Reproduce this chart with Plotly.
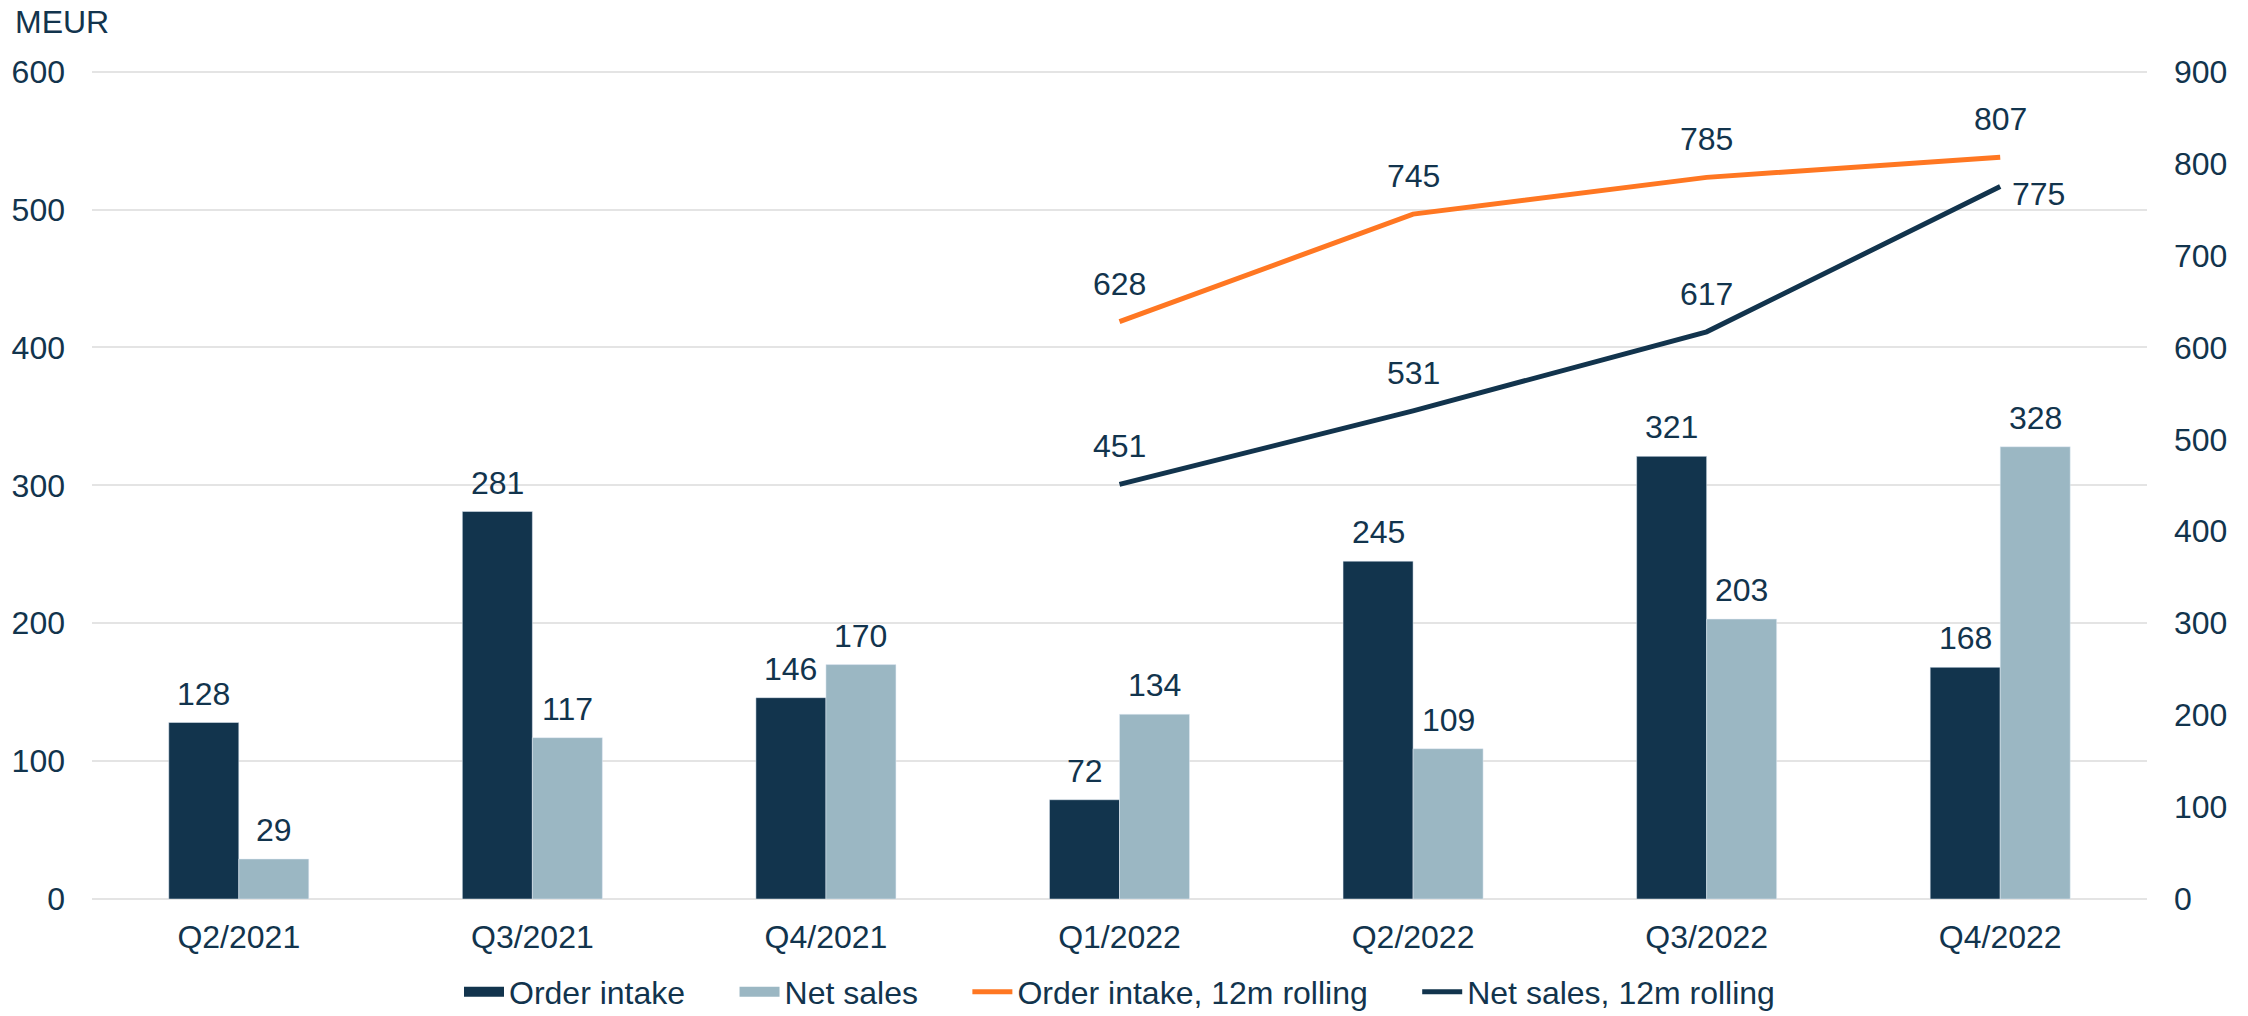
import plotly.graph_objects as go

categories = ["Q2/2021", "Q3/2021", "Q4/2021", "Q1/2022", "Q2/2022", "Q3/2022", "Q4/2022"]
order_intake = [128, 281, 146, 72, 245, 321, 168]
net_sales = [29, 117, 170, 134, 109, 203, 328]
order_intake_12m = [None, None, None, 628, 745, 785, 807]
net_sales_12m = [None, None, None, 451, 531, 617, 775]
left_ticks = [0, 100, 200, 300, 400, 500, 600]
right_ticks = [0, 100, 200, 300, 400, 500, 600, 700, 800, 900]

DARK = "#12344D"
LIGHT = "#9BB7C3"
ORANGE = "#FF7722"
TXT = "#12344D"
GRID = "#E4E4E4"
FONT = "Arial, Liberation Sans, sans-serif"
FS = 32
NB = "\u00a0" * 5

fig = go.Figure()

fig.add_trace(go.Bar(x=categories, y=order_intake, name="Order intake",
                     marker_color=DARK, showlegend=False))
fig.add_trace(go.Bar(x=categories, y=net_sales, name="Net sales",
                     marker_color=LIGHT, showlegend=False))

fig.add_trace(go.Scatter(
    x=categories, y=order_intake_12m, yaxis="y2", mode="lines",
    line=dict(color=ORANGE, width=5), name="Order intake, 12m rolling",
    showlegend=False, cliponaxis=False,
))
fig.add_trace(go.Scatter(
    x=categories, y=net_sales_12m, yaxis="y2", mode="lines",
    line=dict(color=DARK, width=5), name="Net sales, 12m rolling",
    showlegend=False, cliponaxis=False,
))

# legend entries
for name, color, w in [("Order intake" + NB, DARK, 15), ("Net sales" + NB, LIGHT, 15),
                       ("Order intake, 12m rolling" + NB, ORANGE, 5),
                       ("Net sales, 12m rolling", DARK, 5)]:
    fig.add_trace(go.Scatter(x=[None], y=[None], mode="lines", name=name,
                             line=dict(color=color, width=w), showlegend=True))

annotations = []
# bar value labels
for cat, v in zip(categories, order_intake):
    annotations.append(dict(x=cat, y=v, xref="x", yref="y", text=str(v), showarrow=False,
                            xanchor="center", yanchor="bottom", xshift=-35, yshift=9))
for cat, v in zip(categories, net_sales):
    annotations.append(dict(x=cat, y=v, xref="x", yref="y", text=str(v), showarrow=False,
                            xanchor="center", yanchor="bottom", xshift=35, yshift=9))
# line value labels
for cat, v in zip(categories, order_intake_12m):
    if v is not None:
        annotations.append(dict(x=cat, y=v, xref="x", yref="y2", text=str(v), showarrow=False,
                                xanchor="center", yanchor="bottom", yshift=18))
n_last = len(categories) - 1
for i, (cat, v) in enumerate(zip(categories, net_sales_12m)):
    if v is None:
        continue
    if i == n_last:
        annotations.append(dict(x=cat, y=v, xref="x", yref="y2", text=str(v), showarrow=False,
                                xanchor="left", yanchor="middle", xshift=10, yshift=-7))
    else:
        annotations.append(dict(x=cat, y=v, xref="x", yref="y2", text=str(v), showarrow=False,
                                xanchor="center", yanchor="bottom", yshift=18))

annotations.append(dict(text="MEUR", xref="paper", yref="paper", x=-92 / 2055, y=1 + 48 / 829,
                        xanchor="left", yanchor="middle", showarrow=False, xshift=13))

fig.update_layout(
    width=2248, height=1016,
    margin=dict(l=92, r=101, t=70, b=117, autoexpand=False),
    paper_bgcolor="white", plot_bgcolor="white",
    font=dict(family=FONT, size=FS, color=TXT),
    barmode="group", bargap=0.523, bargroupgap=0,
    xaxis=dict(showgrid=False, showline=False, ticks="", tickfont=dict(size=FS),
               ticklabelstandoff=16),
    yaxis=dict(range=[0, 600 * 1.002], tickvals=left_ticks, showgrid=True, gridcolor=GRID,
               gridwidth=2, zeroline=True, zerolinecolor=GRID, zerolinewidth=2,
               showline=False, ticks="", ticklabelstandoff=26, tickfont=dict(size=FS)),
    yaxis2=dict(range=[0, 900 * 1.002], tickvals=right_ticks, overlaying="y", side="right",
                showgrid=False, zeroline=False, showline=False, ticks="",
                ticklabelstandoff=26, tickfont=dict(size=FS)),
    legend=dict(orientation="h", x=0.5, xanchor="center", y=-0.112, yanchor="middle",
                font=dict(size=FS, color=TXT), itemwidth=40, traceorder="normal",
                bgcolor="rgba(0,0,0,0)"),
    annotations=annotations,
)

fig.write_html("out.html", config={"displayModeBar": False},
               post_script="document.body.style.margin='0';document.body.style.overflow='hidden';")
